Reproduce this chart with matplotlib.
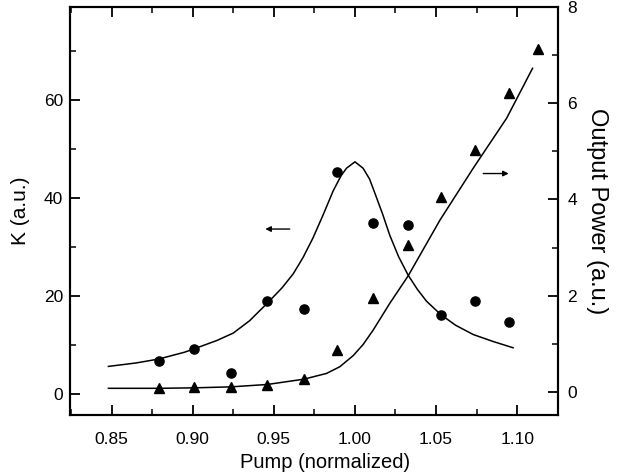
import matplotlib
matplotlib.use("Agg")
import matplotlib.pyplot as plt
from matplotlib.ticker import MultipleLocator, FormatStrFormatter

plt.rcParams['font.family'] = ['Liberation Sans', 'DejaVu Sans']

# Measured data: K (left axis, circles)
pump_k = [0.879, 0.901, 0.9235, 0.946, 0.9685, 0.989, 1.011, 1.033, 1.053, 1.074, 1.095]
k_vals = [6.9, 9.2, 4.3, 19.0, 17.4, 45.4, 34.9, 34.5, 16.1, 19.1, 14.8]

# Measured data: output power (right axis, triangles)
pump_p = [0.879, 0.901, 0.9235, 0.946, 0.9685, 0.989, 1.011, 1.033, 1.053, 1.074, 1.095, 1.113]
p_vals = [0.08, 0.09, 0.10, 0.13, 0.27, 0.87, 1.94, 3.05, 4.06, 5.04, 6.22, 7.13]

# Theory curve for K
curve_k_x = [0.848, 0.865, 0.879, 0.895, 0.901, 0.915, 0.925, 0.935, 0.946, 0.955, 0.962,
             0.968, 0.974, 0.980, 0.9866, 0.9915, 0.9948, 1.000, 1.005, 1.009, 1.0123, 1.017,
             1.0215, 1.027, 1.0328, 1.0385, 1.0441, 1.0528, 1.062, 1.0729, 1.085, 1.0975]
curve_k_y = [5.7, 6.4, 7.2, 8.6, 9.3, 11.0, 12.5, 15.0, 18.6, 21.7, 24.6,
             27.9, 31.8, 36.3, 41.5, 44.6, 46.1, 47.4, 46.1, 43.9, 41.0, 36.8,
             32.4, 28.0, 24.3, 21.4, 19.0, 16.3, 14.1, 12.2, 10.8, 9.5]

# Theory curve for output power
curve_p_x = [0.848, 0.879, 0.901, 0.9235, 0.946, 0.9685, 0.9825, 0.9907, 0.9989, 1.005,
             1.0112, 1.0215, 1.0328, 1.0524, 1.0729, 1.0935, 1.1095]
curve_p_y = [0.07, 0.07, 0.08, 0.10, 0.15, 0.26, 0.38, 0.52, 0.75, 0.98,
             1.28, 1.84, 2.41, 3.57, 4.65, 5.69, 6.73]

x_ticks = [0.85, 0.90, 0.95, 1.00, 1.05, 1.10]
k_ticks = [0, 20, 40, 60]
p_ticks = [0, 2, 4, 6, 8]

fig = plt.figure(figsize=(6.2, 4.76), dpi=100)
ax = fig.add_axes([0.1134, 0.1282, 0.8995 - 0.1134, 0.9847 - 0.1282])
ax2 = ax.twinx()

ax.plot(curve_k_x, curve_k_y, color='black', lw=1.1)
ax.plot(pump_k, k_vals, 'o', color='black', ms=6.6)
ax2.plot(curve_p_x, curve_p_y, color='black', lw=1.1)
ax2.plot(pump_p, p_vals, '^', color='black', ms=6.8)

ax.set_xlim(0.8245, 1.125)
ax.set_ylim(-4.2, 78.9)
ax2.set_ylim(-0.485, 8.0)

ax.set_xticks(x_ticks)
ax.xaxis.set_major_formatter(FormatStrFormatter('%.2f'))
ax.xaxis.set_minor_locator(MultipleLocator(0.025))
ax.set_yticks(k_ticks)
ax.yaxis.set_minor_locator(MultipleLocator(10))
ax2.set_yticks(p_ticks)
ax2.yaxis.set_minor_locator(MultipleLocator(1))

for a in (ax, ax2):
    for s in a.spines.values():
        s.set_linewidth(1.5)
ax.tick_params(axis='x', which='both', direction='in', top=True, labelsize=12.5, pad=12)
ax.tick_params(axis='x', which='major', length=7, width=1.3)
ax.tick_params(axis='x', which='minor', length=4, width=1.1)
ax.tick_params(axis='y', which='major', direction='in', length=7, width=1.3, labelsize=12.5, pad=5)
ax.tick_params(axis='y', which='minor', direction='in', length=4, width=1.1)
ax2.tick_params(axis='y', which='major', direction='in', length=7, width=1.3, labelsize=12.5, pad=7)
ax2.tick_params(axis='y', which='minor', direction='in', length=4, width=1.1)

ax.set_xlabel('Pump (normalized)', fontsize=14.5)
ax.xaxis.set_label_coords(0.5226, -0.094)
ax.set_ylabel('K (a.u.)', fontsize=15, labelpad=10)
ax2.set_ylabel('Output Power (a.u.)', fontsize=17, rotation=270, labelpad=22)

# direction arrows
ax.annotate('', xy=(0.943, 33.7), xytext=(0.9615, 33.7),
            arrowprops=dict(arrowstyle='-|>', color='black', lw=1.0, mutation_scale=8))
ax2.annotate('', xy=(1.0965, 4.54), xytext=(1.0774, 4.54),
             arrowprops=dict(arrowstyle='-|>', color='black', lw=1.0, mutation_scale=8))

fig.savefig('out.png', dpi=100)
